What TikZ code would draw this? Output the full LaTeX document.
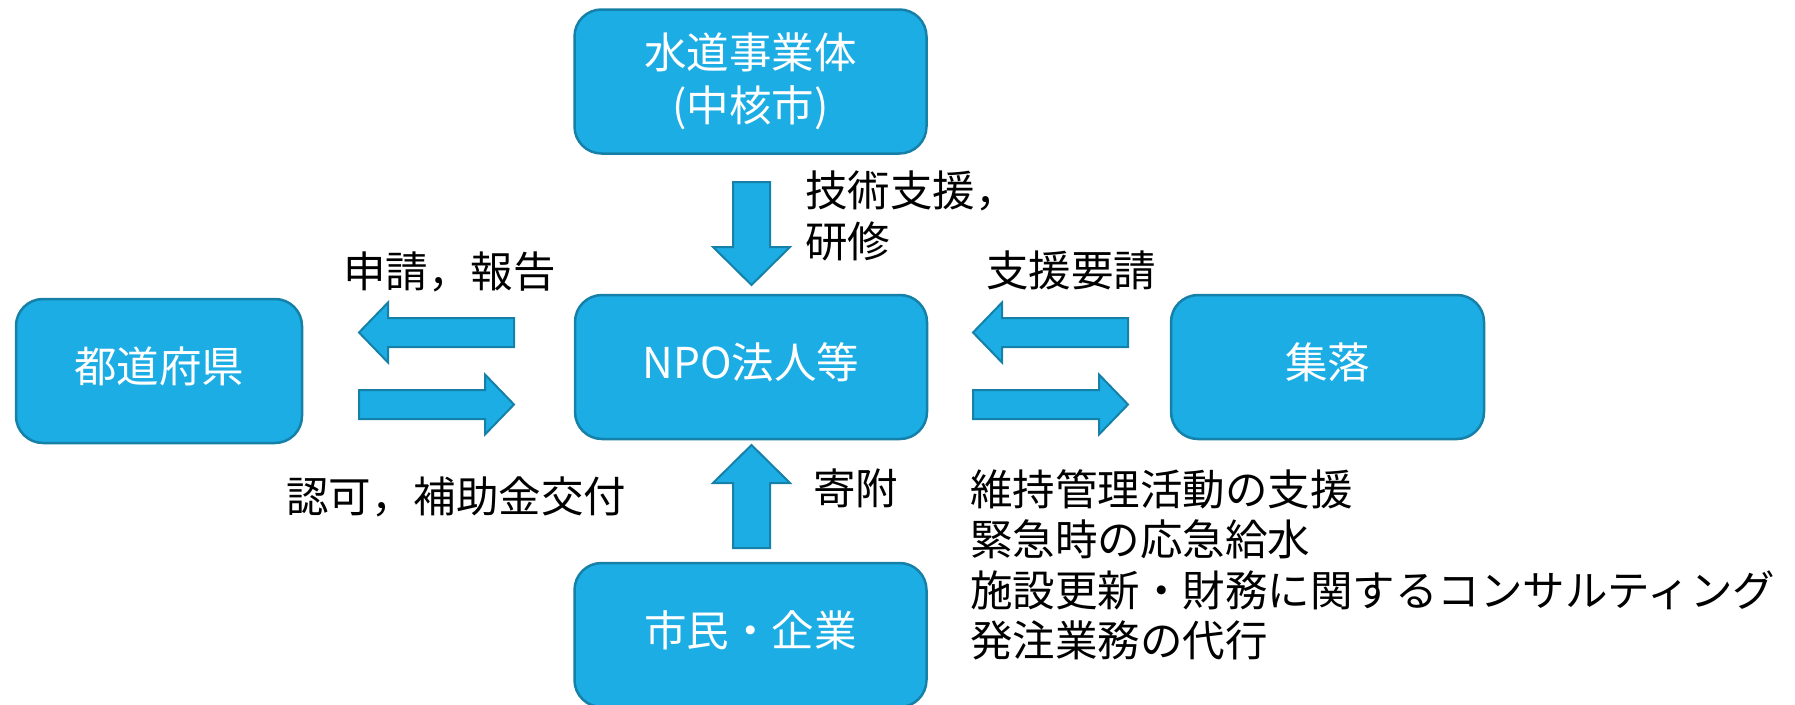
\documentclass[tikz,border=0pt]{standalone}
\usepackage{fontspec}
\setmainfont{Noto Sans CJK JP}
\usetikzlibrary{calc}
\definecolor{fil}{HTML}{1CADE4}
\definecolor{bdr}{HTML}{1580A8}
% block arrow: from, to, shaft half-width, head half-width, head length
\newcommand\blockarr[5]{%
  \path coordinate (ba) at ($(#2)!#5!(#1)$);
  \draw[barr] ($(#1)!#3!90:(#2)$) -- ($(ba)!#3!-90:(#1)$) -- ($(ba)!#4!-90:(#1)$) -- (#2)
    -- ($(ba)!#4!90:(#1)$) -- ($(ba)!#3!90:(#1)$) -- ($(#1)!#3!-90:(#2)$) -- cycle;}
\begin{document}
\begin{tikzpicture}[x=1pt,y=-1pt,
  box/.style={draw=bdr, fill=fil, line width=2.5pt, rounded corners=27pt, inner sep=0pt,
    text=white, font=\fontsize{42.5}{53}\selectfont, align=center},
  sbox/.style={text height=37.4pt, text depth=15pt},
  barr/.style={draw=bdr, fill=fil, line width=2pt, line join=miter},
  lab/.style={anchor=west, inner sep=0pt, font=\fontsize{42.5}{51}\selectfont, align=left}]
\useasboundingbox (0,0) rectangle (1795,704);

% boxes
\node[box, minimum width=352pt, minimum height=144pt] (top) at (750.5,81.5) {水道事業体\\(中核市)};
\node[box, sbox, minimum width=352pt, minimum height=144pt] (npo) at (751,367) {NPO法人等};
\node[box, sbox, minimum width=286pt, minimum height=144pt] (pref) at (159,371) {都道府県};
\node[box, sbox, minimum width=313pt, minimum height=144pt] (vill) at (1327.5,367) {集落};
\node[box, sbox, minimum width=352pt, minimum height=144pt] (cit) at (750.5,635) {市民・企業};

% arrow end points
\coordinate (dS) at (751.5,182);  \coordinate (dE) at (751.5,285);
\coordinate (uS) at (751.5,548);  \coordinate (uE) at (751.5,445);
\coordinate (l1S) at (514,332.5); \coordinate (l1E) at (359,332.5);
\coordinate (l2S) at (359,404.5); \coordinate (l2E) at (514,404.5);
\coordinate (r1S) at (1128,332.5); \coordinate (r1E) at (973,332.5);
\coordinate (r2S) at (973,404.5); \coordinate (r2E) at (1128,404.5);

\blockarr{dS}{dE}{18.5pt}{38.5pt}{38pt}
\blockarr{uS}{uE}{18.5pt}{38.5pt}{38pt}
\blockarr{l1S}{l1E}{14.5pt}{30pt}{29pt}
\blockarr{l2S}{l2E}{14.5pt}{30pt}{29pt}
\blockarr{r1S}{r1E}{14.5pt}{30pt}{29pt}
\blockarr{r2S}{r2E}{14.5pt}{30pt}{29pt}

% labels
\node[lab] (lab1) at (343,272) {申請，報告};
\node[lab] (lab2) at (286,497) {認可，補助金交付};
\node[lab] (lab3) at (805,216.4) {技術支援，\\研修};
\node[lab] (lab4) at (986,270) {支援要請};
\node[lab] (lab5) at (813,488) {寄附};
\node[lab, font=\fontsize{42.5}{50.5}\selectfont] (lab6) at (970,565) {維持管理活動の支援\\緊急時の応急給水\\施設更新・財務に関するコンサルティング\\発注業務の代行};
\end{tikzpicture}
\end{document}
